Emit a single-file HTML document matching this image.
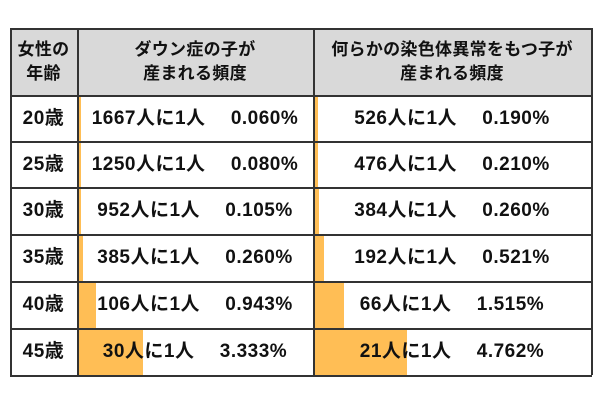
<!DOCTYPE html>
<html><head><meta charset="utf-8"><style>
body{margin:0;width:600px;height:400px;background:#fff;position:relative;overflow:hidden;font-family:"Liberation Sans","Noto Sans CJK JP",sans-serif;color:#111}
.c{position:absolute;box-sizing:border-box;display:flex;align-items:center;justify-content:center;text-align:center;font-size:19px;font-weight:bold;line-height:25px;letter-spacing:0.5px;white-space:pre}
.h{background:#d9d9d9;font-size:17px;line-height:24px;letter-spacing:0.3px}
.bar{position:absolute;background:#ffbe55}
.line{position:absolute;background:#333}
</style></head><body>
<div id="tbl"></div>
<script>
const ages=["20歳","25歳","30歳","35歳","40歳","45歳"];
const downText=["1667人に1人　 0.060%","1250人に1人　 0.080%","952人に1人　 0.105%","385人に1人　 0.260%","106人に1人　 0.943%","30人に1人　 3.333%"];
const downPct=[0.060,0.080,0.105,0.260,0.943,3.333];
const anyText=["526人に1人　 0.190%","476人に1人　 0.210%","384人に1人　 0.260%","192人に1人　 0.521%","66人に1人　 1.515%","21人に1人　 4.762%"];
const anyPct=[0.190,0.210,0.260,0.521,1.515,4.762];
const T=document.getElementById('tbl');
const X=[10,77,313,591];
const rowY=[28,95,141,187,234,281,328,375];
const pxPerPct=19.5;
function cell(x,y,w,h,txt,cls,name){
  const d=document.createElement('div');
  d.className='c '+cls;
  d.style.cssText=`left:${x}px;top:${y}px;width:${w}px;height:${h}px`;
  d.innerHTML=txt;
  
  
  T.appendChild(d);
}
cell(X[0],rowY[0],X[1]-X[0],rowY[1]-rowY[0],"女性の<br>年齢","h","header-age");
cell(X[1],rowY[0],X[2]-X[1],rowY[1]-rowY[0],"ダウン症の子が<br>産まれる頻度","h","header-down");
cell(X[2],rowY[0],X[3]-X[2],rowY[1]-rowY[0],"何らかの染色体異常をもつ子が<br>産まれる頻度","h","header-any");
function bar(x,y,w,h,name){
  const b=document.createElement('div');
  b.className='bar';
  b.style.cssText=`left:${x}px;top:${y}px;width:${w}px;height:${h}px`;
  
  
  T.appendChild(b);
}
for(let i=0;i<ages.length;i++){
  const y=rowY[i+1],h=rowY[i+2]-y;
  bar(X[1]+1,y+1,Math.max(3,downPct[i]*pxPerPct),h-1,'down-bar-'+i);
  bar(X[2]+1,y+1,Math.max(3,anyPct[i]*pxPerPct),h-1,'any-bar-'+i);
  cell(X[0],y,X[1]-X[0],h,ages[i],"","age-"+i);
  cell(X[1],y,X[2]-X[1],h,downText[i],"","down-value-"+i);
  cell(X[2],y,X[3]-X[2],h,anyText[i],"","any-value-"+i);
}
function line(x,y,w,h){
  const l=document.createElement('div');
  l.className='line';
  l.style.cssText=`left:${x}px;top:${y}px;width:${w}px;height:${h}px`;
  
  
  T.appendChild(l);
}
rowY.forEach(y=>line(X[0],y,X[3]-X[0]+1,1.5));
X.forEach(x=>line(x,rowY[0],1.5,rowY[7]-rowY[0]));
</script>
</body></html>
